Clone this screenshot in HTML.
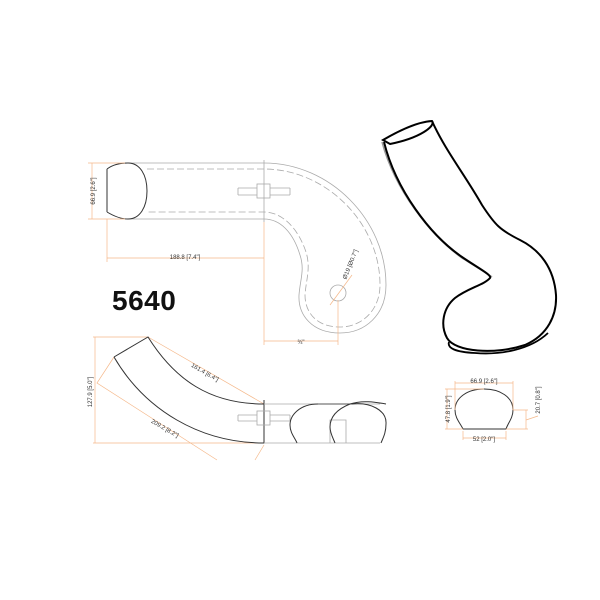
<!DOCTYPE html>
<html><head><style>body{margin:0;background:#fff}svg{display:block}text{font-family:"Liberation Sans",sans-serif}</style></head><body>
<svg width="600" height="600" viewBox="0 0 600 600" xmlns="http://www.w3.org/2000/svg">
<g fill="none" stroke="#aaa" stroke-width="0.8">
<path d="M125,163 L264,163 C330,163 386,220 386,285 C386,315 365,333 340,333 C312,333 298,315 299,295 C300,280 305,270 300,255 C293,232 280,219 264,219 L125,219"/>
<path d="M147,169 L264,169 C325,169 380,222 380,285 C380,310 362,327 340,327 C316,327 305,312 305,295 C306,280 311,268 306,252 C298,228 282,212 264,212 L147,212" stroke-dasharray="7,3"/>
<line x1="264" y1="160" x2="264" y2="222"/>
<rect x="257" y="184" width="13" height="14"/>
<path d="M238,188 H257 M270,188 H290 M238,195 H257 M270,195 H290 M238,188 V195 M290,188 V195"/>
<circle cx="338" cy="293" r="8"/>
</g>
<path d="M107,169 L107,212 M107,169 C115,163 125,163 128,163 C140,163 147,175 147,191 C147,207 140,219 128,219 C120,219 112,215 107,212" fill="none" stroke="#333" stroke-width="1"/>
<g stroke="#f5b88a" stroke-width="0.7" fill="none">
<path d="M88,163 H125 M88,219 H125 M92,163 V219"/>
<path d="M107,219 V262 M264,222 V345 M107,258 H264"/>
<path d="M338,300 V345 M264,341 H338"/>
<path d="M330,305 L352,275"/>
</g>
<text x="95" y="191" font-size="6" fill="#333" transform="rotate(-90 95 191)" text-anchor="middle">66.9 [2.6"]</text>
<text x="185" y="259" font-size="6" fill="#333" text-anchor="middle">188.8 [7.4"]</text>
<text x="301" y="344" font-size="6" fill="#333" text-anchor="middle">¾"</text>
<text x="352" y="265" font-size="6" fill="#333" text-anchor="middle" transform="rotate(-68 352 265)">Ø19 [Ø0.7"]</text>
<text x="112" y="310" font-size="28" font-weight="bold" fill="#111" letter-spacing="0.5">5640</text>
<g stroke="#f5b88a" stroke-width="0.7" fill="none">
<path d="M93,337 H148 M93,443 H264 M95,337 V443"/>
<path d="M148,337 L264,404 M114,357 L97,383 L217,460 M264,445 L255,460"/>
</g>
<text x="92" y="392" font-size="6" fill="#333" transform="rotate(-90 92 392)" text-anchor="middle">127.9 [5.0"]</text>
<text x="204" y="374" font-size="6" fill="#333" transform="rotate(30 204 374)" text-anchor="middle">161.4 [6.4"]</text>
<text x="164" y="430" font-size="6" fill="#333" transform="rotate(30 164 430)" text-anchor="middle">209.2 [8.2"]</text>
<path d="M114,357 L148,337 C175,380 210,404 264,404 M114,357 C145,410 200,443 264,443 L264,400" fill="none" stroke="#333" stroke-width="1"/>
<g stroke="#aaa" stroke-width="0.8" fill="none">
<path d="M264,404 H380 M264,443 H380"/>
<rect x="257" y="411" width="13" height="14"/>
<path d="M238,415 H257 M270,415 H290 M238,421 H257 M270,421 H290 M238,415 V421 M290,415 V421"/>
<path d="M330,443 V420 H346 V443"/>
</g>
<path d="M318,404 C300,404 290,415 290,425 C290,433 295,438 297,443 M386,404 C375,402 362,400 350,404 C340,408 330,415 330,427 C330,433 333,438 335,443 M352,404 C370,402 387,410 386,424 C386,433 383,438 381,443" fill="none" stroke="#333" stroke-width="1"/>
<path d="M318,404 H352" stroke="#333" stroke-width="0.8"/>
<path d="M463,429 L506,429 C508,423 513,418 513,410 C513,397 500,389 484,389 C467,389 455,398 455,410 C455,418 460,423 463,429 Z" fill="none" stroke="#333" stroke-width="1"/>
<g stroke="#f5b88a" stroke-width="0.7" fill="none">
<path d="M455,410 V381 M513,410 V381 M455,383 H513"/>
<path d="M445,389 H484 M445,429 H463 M447,389 V429"/>
<path d="M463,431 V440 M506,431 V440 M463,438 H506"/>
<path d="M513,410 H528 M506,429 H528 M526,410 V429 M526,420 L538,416"/>
</g>
<text x="484" y="383" font-size="6" fill="#333" text-anchor="middle">66.9 [2.6"]</text>
<text x="450" y="409" font-size="6" fill="#333" transform="rotate(-90 450 409)" text-anchor="middle">47.8 [1.9"]</text>
<text x="484" y="441" font-size="6" fill="#333" text-anchor="middle">52 [2.0"]</text>
<text x="540" y="400" font-size="6" fill="#333" transform="rotate(-90 540 400)" text-anchor="middle">20.7 [0.8"]</text>
<path d="M382,142 C395,190 430,235 462,258 C475,266 485,272 492,277" fill="none" stroke="#999" stroke-width="1.5"/>
<path d="M383,140 C395,133 415,122 432,121 C436,126 420,138 390,144 Z" fill="none" stroke="#000" stroke-width="2"/>
<path d="M384,142 C396,190 430,235 462,257 C478,268 492,275 490,278 C484,285 468,288 455,298 C443,308 440,325 447,338 C455,352 495,355 525,345 C548,335 557,315 556,295 C554,268 540,250 520,240 C500,230 495,225 482,205 C465,175 445,150 432,121" fill="none" stroke="#000" stroke-width="2"/>
<path d="M449,342 C447,348 455,352 475,353 C500,355 530,350 548,333" fill="none" stroke="#000" stroke-width="1.8"/>
</svg>
</body></html>
